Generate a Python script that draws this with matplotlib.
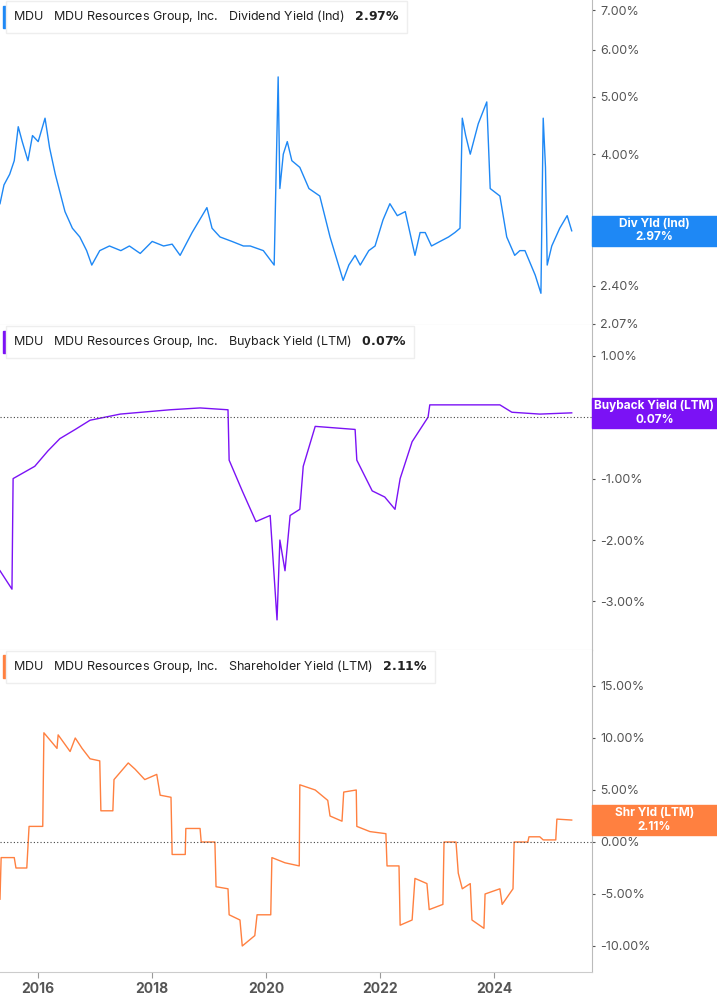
import matplotlib
matplotlib.use("Agg")
import matplotlib.pyplot as plt
from matplotlib.ticker import FixedLocator, NullLocator
from matplotlib.transforms import blended_transform_factory

plt.rcParams['font.family'] = 'Inter'

div_t = [15.33,15.40,15.50,15.58,15.65,15.72,15.82,15.90,16.00,16.12,16.20,16.30,16.47,16.60,16.73,16.85,16.94,17.08,17.25,17.45,17.60,17.79,18.00,18.20,18.35,18.49,18.70,18.96,19.05,19.19,19.40,19.60,19.72,19.95,20.14,20.21,20.24,20.30,20.37,20.45,20.59,20.75,20.94,21.12,21.35,21.45,21.56,21.65,21.80,21.91,22.05,22.17,22.30,22.44,22.61,22.70,22.79,22.90,23.05,23.20,23.31,23.40,23.44,23.50,23.58,23.72,23.87,23.93,24.10,24.22,24.36,24.45,24.54,24.72,24.82,24.86,24.90,24.93,25.01,25.15,25.28,25.36]
div_v = [3.30,3.55,3.70,3.90,4.45,4.20,3.90,4.30,4.20,4.60,4.10,3.70,3.20,3.00,2.90,2.75,2.60,2.75,2.80,2.75,2.80,2.72,2.85,2.80,2.82,2.70,2.95,3.25,3.00,2.90,2.85,2.80,2.80,2.75,2.60,5.40,3.50,4.00,4.20,3.90,3.80,3.50,3.40,2.90,2.45,2.60,2.70,2.60,2.75,2.80,3.10,3.30,3.15,3.20,2.70,2.95,2.95,2.80,2.85,2.90,2.95,3.00,4.60,4.30,4.00,4.50,4.90,3.50,3.40,2.90,2.70,2.75,2.75,2.50,2.33,4.60,3.80,2.60,2.80,3.00,3.15,2.97]

bb_t = [15.33,15.54,15.56,15.94,16.17,16.38,16.65,16.91,17.44,18.31,18.84,19.33,19.35,19.58,19.82,20.07,20.19,20.24,20.33,20.42,20.59,20.65,20.86,21.56,21.59,21.86,22.08,22.26,22.35,22.56,22.84,22.87,23.40,24.10,24.31,24.80,25.36]
bb_v = [-2.50,-2.80,-1.00,-0.80,-0.55,-0.35,-0.20,-0.05,0.05,0.12,0.15,0.12,-0.70,-1.20,-1.70,-1.60,-3.30,-2.00,-2.50,-1.60,-1.50,-0.80,-0.15,-0.20,-0.70,-1.20,-1.30,-1.50,-1.00,-0.40,0.00,0.20,0.20,0.20,0.08,0.05,0.07]

sh_t = [15.33,15.35,15.58,15.61,15.80,15.84,16.08,16.10,16.33,16.35,16.56,16.65,16.77,16.91,17.08,17.10,17.31,17.33,17.58,17.70,17.87,18.08,18.14,18.33,18.35,18.58,18.59,18.84,18.86,19.10,19.12,19.33,19.35,19.54,19.58,19.80,19.84,20.08,20.10,20.33,20.58,20.59,20.86,21.08,21.12,21.33,21.36,21.58,21.59,21.82,22.10,22.12,22.33,22.35,22.56,22.61,22.82,22.86,23.10,23.12,23.33,23.37,23.44,23.58,23.61,23.82,23.84,24.10,24.14,24.33,24.35,24.59,24.61,24.80,24.86,25.08,25.10,25.36]
sh_v = [-5.5,-1.5,-1.5,-2.5,-2.5,1.5,1.5,10.5,9.0,10.3,8.7,10.0,9.0,8.0,7.8,3.0,3.0,6.0,7.6,7.0,6.0,6.5,4.5,4.3,-1.2,-1.2,1.3,1.3,0.0,0.0,-4.3,-4.5,-7.0,-7.5,-10.0,-9.0,-7.0,-7.0,-1.5,-2.0,-2.3,5.5,5.0,4.0,2.5,2.0,4.8,5.0,1.5,1.0,0.8,-2.3,-2.3,-8.0,-7.5,-3.5,-4.0,-6.5,-6.0,0.0,0.0,-3.0,-4.5,-4.0,-7.5,-8.3,-5.0,-4.5,-6.0,-4.5,0.0,0.0,0.5,0.5,0.2,0.2,2.2,2.11]

years = [2016, 2018, 2020, 2022, 2024]

W, H = 717, 1005
fig = plt.figure(figsize=(W/100, H/100), dpi=100)
R = 592/W
XL = (15.33, 15.33 + 592/57)
GREY = '#555555'

def mkax(top, bot):
    ax = fig.add_axes([0, 1-bot/H, R, (bot-top)/H])
    ax.set_xlim(*XL)
    for s in ['left', 'top']:
        ax.spines[s].set_visible(False)
    ax.spines['right'].set_color('#bbbbbb')
    ax.spines['bottom'].set_color('#cccccc')
    ax.yaxis.tick_right()
    ax.tick_params(axis='y', colors=GREY, labelsize=9, length=2, pad=4)
    ax.xaxis.set_major_locator(FixedLocator([y - 2000 for y in years]))
    ax.tick_params(axis='x', length=0, labelbottom=False)
    return ax

def legend(ax, color, text, val, y):
    ax.text(0.022, y, f"MDU   MDU Resources Group, Inc.   {text}   $\\bf{{{val.replace('%', '\\%')}}}$",
            transform=ax.transAxes, fontsize=9, color='#222', va='center',
            bbox=dict(boxstyle='square,pad=0.6', fc='white', ec='#eeeeee'))
    ax.add_patch(plt.Rectangle((0.005, y-0.035), 0.006, 0.07, transform=ax.transAxes, color=color, clip_on=False))

def valbox(ax, color, l1, l2, v):
    tr = blended_transform_factory(fig.transFigure, ax.transData)
    yd = ax.transData.transform((0, v))[1]
    h = 15
    y0 = ax.transData.inverted().transform((0, yd - h))[1]
    y1 = ax.transData.inverted().transform((0, yd + h))[1]
    ax.add_patch(plt.Rectangle((R, y0), 1-R, y1-y0, transform=tr, color=color, clip_on=False, zorder=5))
    ax.text((R+1)/2, v, f"{l1}\n{l2}", transform=tr, ha='center', va='center', color='white',
            fontsize=8.5, fontweight='bold', linespacing=1.15, zorder=6)

c1 = '#1e88f5'
ax1 = mkax(0, 325)
ax1.set_yscale('log')
ax1.plot(div_t, div_v, color=c1, lw=1)
ax1.set_ylim(2.06, 7.28)
tk = [2.07, 2.40, 3.00, 4.00, 5.00, 6.00, 7.00]
ax1.yaxis.set_major_locator(FixedLocator(tk))
ax1.yaxis.set_minor_locator(NullLocator())
ax1.set_yticklabels([f"{v:.2f}%" for v in tk])
legend(ax1, c1, "Dividend Yield (Ind)", "2.97%", 0.948)
valbox(ax1, c1, "Div Yld (Ind)", "2.97%", 2.97)

c2 = '#7b12f5'
ax2 = mkax(325, 650)
ax2.plot(bb_t, bb_v, color=c2, lw=1)
ax2.set_ylim(-3.79, 1.5)
ax2.axhline(0, color='#444', lw=0.8, ls=(0, (1, 2)))
tk = [-3, -2, -1, 1]
ax2.set_yticks(tk)
ax2.set_yticklabels([f"{v:.2f}%" for v in tk])
legend(ax2, c2, "Buyback Yield (LTM)", "0.07%", 0.948)
valbox(ax2, c2, "Buyback Yield (LTM)", "0.07%", 0.07)

c3 = '#ff8040'
ax3 = mkax(650, 972)
ax3.plot(sh_t, sh_v, color=c3, lw=1)
ax3.set_ylim(-12.5, 18.46)
ax3.axhline(0, color='#444', lw=0.8, ls=(0, (1, 2)))
tk = [-10, -5, 0, 5, 10, 15]
ax3.set_yticks(tk)
ax3.set_yticklabels([f"{v:.2f}%" for v in tk])
ax3.tick_params(axis='x', length=4, color='#999', labelbottom=True, labelsize=10, labelcolor=GREY)
ax3.set_xticklabels([str(y) for y in years], fontweight='bold')
legend(ax3, c3, "Shareholder Yield (LTM)", "2.11%", 0.948)
valbox(ax3, c3, "Shr Yld (LTM)", "2.11%", 2.11)

fig.savefig("out.png", dpi=100)
